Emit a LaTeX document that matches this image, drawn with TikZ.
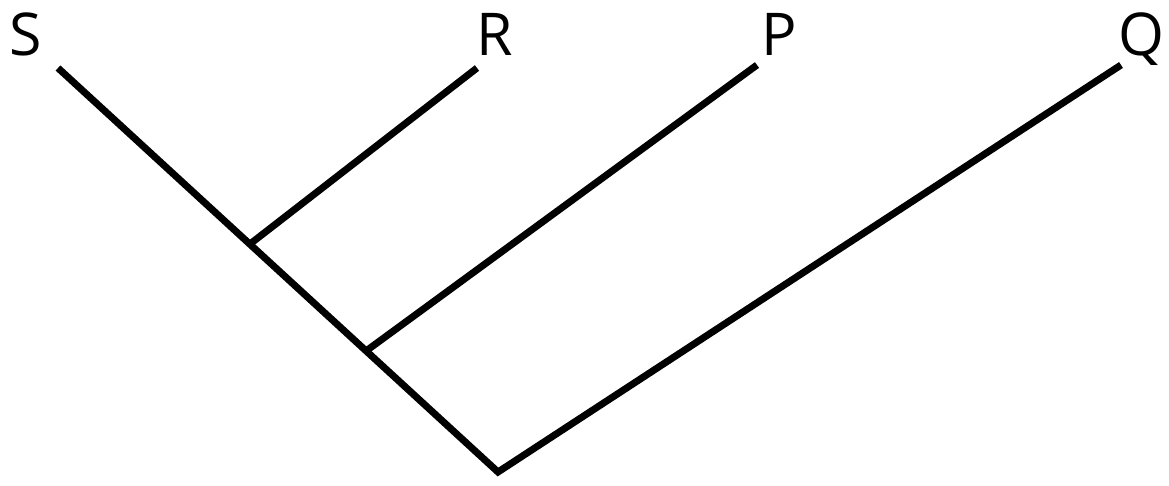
\documentclass[tikz,border=0pt]{standalone}
\usepackage{fontspec}
\setmainfont{Open Sans}
\usepackage{tikz}
\tikzstyle{taxon} = [anchor=base, inner sep=0pt, font=\fontsize{59}{70}\selectfont]
\tikzstyle{branch} = [draw, line width=7pt]

\begin{document}
\begin{tikzpicture}[x=1pt, y=-1pt]
\useasboundingbox (0,0) rectangle (1169,485);
\coordinate (root) at (498,472);
\coordinate (tipS) at (58,68);
\coordinate (tipR) at (477,68);
\coordinate (tipP) at (757,65);
\coordinate (tipQ) at (1121,65);
\coordinate (nodeR) at (250,244);
\coordinate (nodeP) at (366,351);
\node [taxon] (S) at (26,55) {S};
\node [taxon] (R) at (495,55) {R};
\node [taxon] (P) at (779,55) {P};
\node [taxon] (Q) at (1141,55) {Q};
\path [branch] (tipS) -- (root) -- (tipQ);
\path [branch] (nodeR) -- (tipR);
\path [branch] (nodeP) -- (tipP);
\end{tikzpicture}
\end{document}
